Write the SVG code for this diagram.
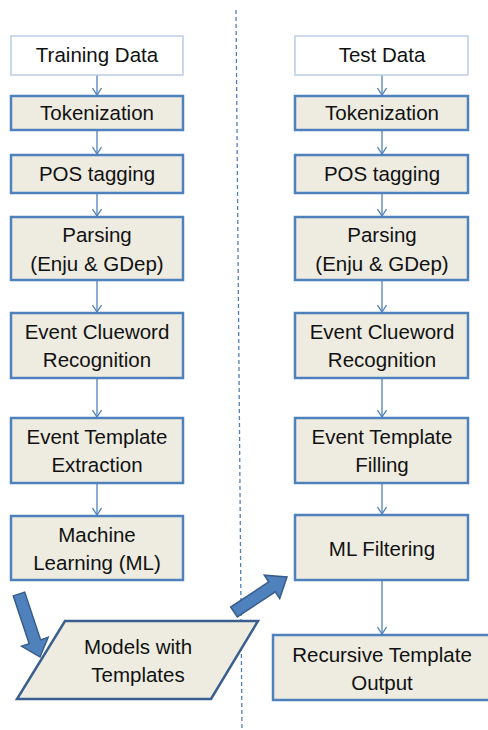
<svg xmlns="http://www.w3.org/2000/svg" width="488" height="730" viewBox="0 0 488 730">
<style>
.box{fill:#EEECE1;stroke:#4F81BD;stroke-width:2.5}
.start{fill:#FFFFFF;stroke:#B9CDE5;stroke-width:1.5}
.t{font-family:"Liberation Sans",Arial,sans-serif;font-size:20.5px;fill:#111;text-anchor:middle}
.c{stroke:#4F81BD;stroke-width:1.3;fill:none}
.big{fill:#4F81BD;stroke:#385D8A;stroke-width:1.5}
</style>
<defs>
<marker id="ah" markerWidth="10" markerHeight="10" refX="9" refY="5" orient="auto" markerUnits="userSpaceOnUse" viewBox="0 0 10 10">
<path d="M2,0.5 L9,5 L2,9.5" fill="none" stroke="#4F81BD" stroke-width="1.3"/>
</marker>
</defs>
<line x1="236" y1="10" x2="242" y2="730" stroke="#4F81BD" stroke-width="1.3" stroke-dasharray="4,3"/>
<g id="connectors">
<line class="c" x1="97" y1="75" x2="97" y2="95" marker-end="url(#ah)"/>
<line class="c" x1="97" y1="130" x2="97" y2="154" marker-end="url(#ah)"/>
<line class="c" x1="97" y1="193" x2="97" y2="216" marker-end="url(#ah)"/>
<line class="c" x1="97" y1="280" x2="97" y2="312" marker-end="url(#ah)"/>
<line class="c" x1="97" y1="378" x2="97" y2="417" marker-end="url(#ah)"/>
<line class="c" x1="97" y1="483" x2="97" y2="515" marker-end="url(#ah)"/>
<line class="c" x1="382" y1="75" x2="382" y2="95" marker-end="url(#ah)"/>
<line class="c" x1="382" y1="130" x2="382" y2="154" marker-end="url(#ah)"/>
<line class="c" x1="382" y1="193" x2="382" y2="216" marker-end="url(#ah)"/>
<line class="c" x1="382" y1="280" x2="382" y2="312" marker-end="url(#ah)"/>
<line class="c" x1="382" y1="378" x2="382" y2="417" marker-end="url(#ah)"/>
<line class="c" x1="382" y1="483" x2="382" y2="514" marker-end="url(#ah)"/>
<line class="c" x1="382" y1="580" x2="382" y2="634" marker-end="url(#ah)"/>
<polygon class="big" points="13.3,595.9 24.7,592.1 40.6,639.9 48.2,637.3 40,657 21.6,646.3 29.2,643.7"/>
<polygon class="big" points="230.7,607 237.3,617 275.3,591.9 279.7,598.6 287,577 264.3,575.2 268.7,581.9"/>
</g>
<g id="train-data"><rect class="start" x="11" y="36" width="172" height="39"/><text class="t" x="97" y="62">Training Data</text></g>
<g id="train-token"><rect class="box" x="11" y="96" width="172" height="34"/><text class="t" x="97" y="120">Tokenization</text></g>
<g id="train-pos"><rect class="box" x="11" y="155" width="172" height="38"/><text class="t" x="97" y="181">POS tagging</text></g>
<g id="train-parse"><rect class="box" x="11" y="217" width="172" height="63"/><text class="t" x="97" y="242">Parsing</text><text class="t" x="97" y="271">(Enju &amp; GDep)</text></g>
<g id="train-clue"><rect class="box" x="11" y="313" width="172" height="65"/><text class="t" x="97" y="339">Event Clueword</text><text class="t" x="97" y="367">Recognition</text></g>
<g id="train-templ"><rect class="box" x="11" y="418" width="172" height="65"/><text class="t" x="97" y="444">Event Template</text><text class="t" x="97" y="472">Extraction</text></g>
<g id="train-ml"><rect class="box" x="11" y="516" width="172" height="64"/><text class="t" x="97" y="542">Machine</text><text class="t" x="97" y="570">Learning (ML)</text></g>
<g id="models"><polygon points="65,621 258,621 211,699 17,699" fill="#EEECE1" stroke="#3A5F8F" stroke-width="2.5"/><text class="t" x="138" y="654">Models with</text><text class="t" x="138" y="682">Templates</text></g>
<g id="test-data"><rect class="start" x="295" y="36" width="173" height="39"/><text class="t" x="382" y="62">Test Data</text></g>
<g id="test-token"><rect class="box" x="295" y="96" width="173" height="34"/><text class="t" x="382" y="120">Tokenization</text></g>
<g id="test-pos"><rect class="box" x="295" y="155" width="173" height="38"/><text class="t" x="382" y="181">POS tagging</text></g>
<g id="test-parse"><rect class="box" x="295" y="217" width="173" height="63"/><text class="t" x="382" y="242">Parsing</text><text class="t" x="382" y="271">(Enju &amp; GDep)</text></g>
<g id="test-clue"><rect class="box" x="295" y="313" width="173" height="65"/><text class="t" x="382" y="339">Event Clueword</text><text class="t" x="382" y="367">Recognition</text></g>
<g id="test-fill"><rect class="box" x="295" y="418" width="173" height="65"/><text class="t" x="382" y="444">Event Template</text><text class="t" x="382" y="472">Filling</text></g>
<g id="test-mlf"><rect class="box" x="295" y="515" width="173" height="65"/><text class="t" x="382" y="556">ML Filtering</text></g>
<g id="output"><rect class="box" x="273" y="635" width="218" height="65"/><text class="t" x="382" y="662">Recursive Template</text><text class="t" x="382" y="690">Output</text></g>
</svg>
